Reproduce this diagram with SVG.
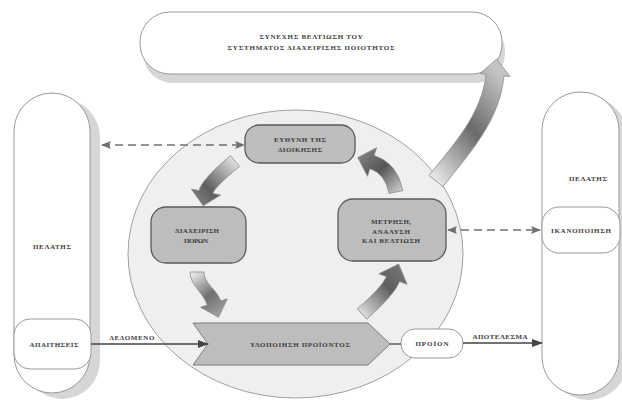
<svg xmlns="http://www.w3.org/2000/svg" width="622" height="405" viewBox="0 0 622 405">
  <defs>
    <style>
      .lbl{font-family:"Liberation Serif","DejaVu Serif",serif;font-weight:bold;font-size:7px;fill:#3c3c3c;text-anchor:middle;}
      .pill{fill:#ffffff;stroke:#9a9a9a;stroke-width:1;}
      .shadow{fill:#d6d6d6;}
      .proc{fill:#bdbdbd;stroke:#5a5a5a;stroke-width:1.3;}
      .solid{stroke:#444444;stroke-width:1.3;fill:none;}
      .dash{stroke:#707070;stroke-width:1.5;stroke-dasharray:8 5;fill:none;}
      .bend{stroke:#8c8c8c;stroke-width:0.8;}
    </style>
    <marker id="headSolid" markerWidth="11" markerHeight="8" refX="10" refY="4" orient="auto" markerUnits="userSpaceOnUse">
      <path d="M0,0 L11,4 L0,8 Z" fill="#444444"/>
    </marker>
    <marker id="headDash" markerWidth="10" markerHeight="8" refX="9" refY="4" orient="auto-start-reverse" markerUnits="userSpaceOnUse">
      <path d="M0,0 L10,4 L0,8 L2,4 Z" fill="#707070"/>
    </marker>
    <!-- shading for the curved cycle arrows: light tail, dark head -->
    <linearGradient id="g1" x1="1" y1="0" x2="0" y2="1">
      <stop offset="0" stop-color="#f6f6f6"/>
      <stop offset="0.65" stop-color="#5e5e5e"/>
      <stop offset="1" stop-color="#8a8a8a"/>
    </linearGradient>
    <linearGradient id="g2" x1="0" y1="0" x2="0.6" y2="1">
      <stop offset="0" stop-color="#f6f6f6"/>
      <stop offset="0.6" stop-color="#707070"/>
      <stop offset="1" stop-color="#9a9a9a"/>
    </linearGradient>
    <linearGradient id="g3" x1="0" y1="1" x2="1" y2="0">
      <stop offset="0" stop-color="#f2f2f2"/>
      <stop offset="0.6" stop-color="#5e5e5e"/>
      <stop offset="1" stop-color="#7c7c7c"/>
    </linearGradient>
    <linearGradient id="g4" x1="1" y1="1" x2="0" y2="0">
      <stop offset="0" stop-color="#d8d8d8"/>
      <stop offset="0.5" stop-color="#555555"/>
      <stop offset="1" stop-color="#8a8a8a"/>
    </linearGradient>
    <linearGradient id="g5" x1="0" y1="1" x2="0.7" y2="0">
      <stop offset="0" stop-color="#fafafa"/>
      <stop offset="0.55" stop-color="#6a6a6a"/>
      <stop offset="1" stop-color="#c4c4c4"/>
    </linearGradient>
  </defs>

  <rect width="622" height="405" fill="#ffffff"/>

  <!-- central process circle -->
  <g id="cycle">
    <ellipse cx="295.5" cy="254" rx="167.5" ry="144" fill="#efefef" stroke="#a0a0a0" stroke-width="1"/>
  </g>

  <!-- continual improvement banner -->
  <g id="improvement">
    <rect class="shadow" x="143" y="21" width="362" height="62" rx="30"/>
    <rect class="pill" x="140" y="12" width="362" height="62" rx="30"/>
    <text class="lbl" x="311" y="38.5" textLength="103" lengthAdjust="spacing">ΣΥΝΕΧΗΣ ΒΕΛΤΙΩΣΗ ΤΟΥ</text>
    <text class="lbl" x="311" y="49.5" textLength="167" lengthAdjust="spacing">ΣΥΣΤΗΜΑΤΟΣ ΔΙΑΧΕΙΡΙΣΗΣ ΠΟΙΟΤΗΤΟΣ</text>
  </g>

  <!-- customer (input side) -->
  <g id="customer-left">
    <rect class="shadow" x="24" y="99" width="76" height="300" rx="38"/>
    <rect class="pill" x="14" y="93" width="76" height="300" rx="38"/>
    <text class="lbl" x="52" y="248.5" textLength="38" lengthAdjust="spacing">ΠΕΛΑΤΗΣ</text>
  </g>
  <g id="requirements">
    <rect class="pill" x="14" y="319" width="77" height="50" rx="16"/>
    <text class="lbl" x="54" y="346.5" textLength="49" lengthAdjust="spacing">ΑΠΑΙΤΗΣΕΙΣ</text>
  </g>

  <!-- customer (output side) -->
  <g id="customer-right">
    <rect class="shadow" x="550" y="97" width="77" height="303" rx="38"/>
    <rect class="pill" x="542" y="92" width="77" height="303" rx="38"/>
    <text class="lbl" x="588" y="180.5" textLength="38" lengthAdjust="spacing">ΠΕΛΑΤΗΣ</text>
  </g>
  <g id="satisfaction">
    <rect class="pill" x="542" y="207" width="78" height="46" rx="17"/>
    <text class="lbl" x="581" y="232.5" textLength="60" lengthAdjust="spacing">ΙΚΑΝΟΠΟΙΗΣΗ</text>
  </g>

  <!-- processes inside the cycle -->
  <g id="management">
    <rect class="proc" x="245" y="125" width="110" height="38" rx="14"/>
    <text class="lbl" x="300" y="142" textLength="52" lengthAdjust="spacing">ΕΥΘΥΝΗ ΤΗΣ</text>
    <text class="lbl" x="300" y="152" textLength="44" lengthAdjust="spacing">ΔΙΟΙΚΗΣΗΣ</text>
  </g>
  <g id="resources">
    <rect class="proc" x="151" y="207" width="95" height="56" rx="15"/>
    <text class="lbl" x="197" y="233" textLength="44" lengthAdjust="spacing">ΔΙΑΧΕΙΡΙΣΗ</text>
    <text class="lbl" x="196" y="243" textLength="24" lengthAdjust="spacing">ΠΟΡΩΝ</text>
  </g>
  <g id="measurement">
    <rect class="proc" x="338" y="199" width="108" height="62" rx="15"/>
    <text class="lbl" x="391" y="224" textLength="40" lengthAdjust="spacing">ΜΕΤΡΗΣΗ,</text>
    <text class="lbl" x="391" y="233.5" textLength="38" lengthAdjust="spacing">ΑΝΑΛΥΣΗ</text>
    <text class="lbl" x="391" y="243" textLength="58" lengthAdjust="spacing">ΚΑΙ ΒΕΛΤΙΩΣΗ</text>
  </g>
  <g id="realization">
    <polygon points="193,323 368,323 390,344 368,365 193,365 208,344" fill="#bdbdbd" stroke="#7a7a7a" stroke-width="1"/>
    <text class="lbl" x="300" y="346.5" textLength="100" lengthAdjust="spacing">ΥΛΟΠΟΙΗΣΗ ΠΡΟΪΟΝΤΟΣ</text>
  </g>
  <g id="product">
    <rect class="pill" x="401" y="329" width="62" height="29" rx="14"/>
    <text class="lbl" x="432" y="346" textLength="33" lengthAdjust="spacing">ΠΡΟΪΟΝ</text>
  </g>

  <!-- connectors -->
  <g id="connectors">
    <!-- curved cycle arrows -->
    <path class="bend" fill="url(#g1)" d="M239.5,166.4 Q214.1,187.5 212.9,193.4 L220.7,195 L203.2,205.7 L191.3,189 L199.1,190.6 Q201.3,179.9 230.5,155.6 Z"/>
    <path class="bend" fill="url(#g2)" d="M204,272 C204,284 217.1,289.5 220.7,300.9 L227.4,298.8 L218.5,317.3 L200.6,307.2 L207.3,305.1 C203.4,292.7 190,285 190,272 Z"/>
    <path class="bend" fill="url(#g3)" d="M366.6,319.3 Q394.7,294.5 399.6,281.5 L407.1,284.3 L398.6,264 L378.9,273.8 L386.4,276.6 Q382.7,286.5 357.4,308.8 Z"/>
    <path class="bend" fill="url(#g4)" d="M389.1,193.4 Q385,173.5 369.9,168.7 L367.5,176.3 L357.8,157.5 L376.5,147.8 L374.1,155.4 Q397.2,162.7 402.9,190.6 Z"/>
    <!-- feedback into continual improvement -->
    <path class="bend" fill="url(#g5)" d="M443,186.6 C470.9,151.5 499.5,120.7 504,75.9 L509.9,76.5 L496.6,59.1 L480.1,73.5 L486,74.1 C482,113.9 453.8,144.2 429,175.4 Z"/>

    <!-- information flows -->
    <line class="dash" x1="102" y1="145" x2="244" y2="145" marker-start="url(#headDash)" marker-end="url(#headDash)"/>
    <line class="dash" x1="448" y1="230" x2="540" y2="230" marker-start="url(#headDash)" marker-end="url(#headDash)"/>

    <!-- input and output -->
    <line class="solid" x1="91" y1="344" x2="208" y2="344" marker-end="url(#headSolid)"/>
    <text class="lbl" x="132" y="340" textLength="45" lengthAdjust="spacing">ΔΕΔΟΜΕΝΟ</text>
    <line class="solid" x1="390" y1="344" x2="401" y2="344"/>
    <line class="solid" x1="463" y1="343" x2="542" y2="343" marker-end="url(#headSolid)"/>
    <text class="lbl" x="500" y="338.5" textLength="55" lengthAdjust="spacing">ΑΠΟΤΕΛΕΣΜΑ</text>
  </g>
</svg>
